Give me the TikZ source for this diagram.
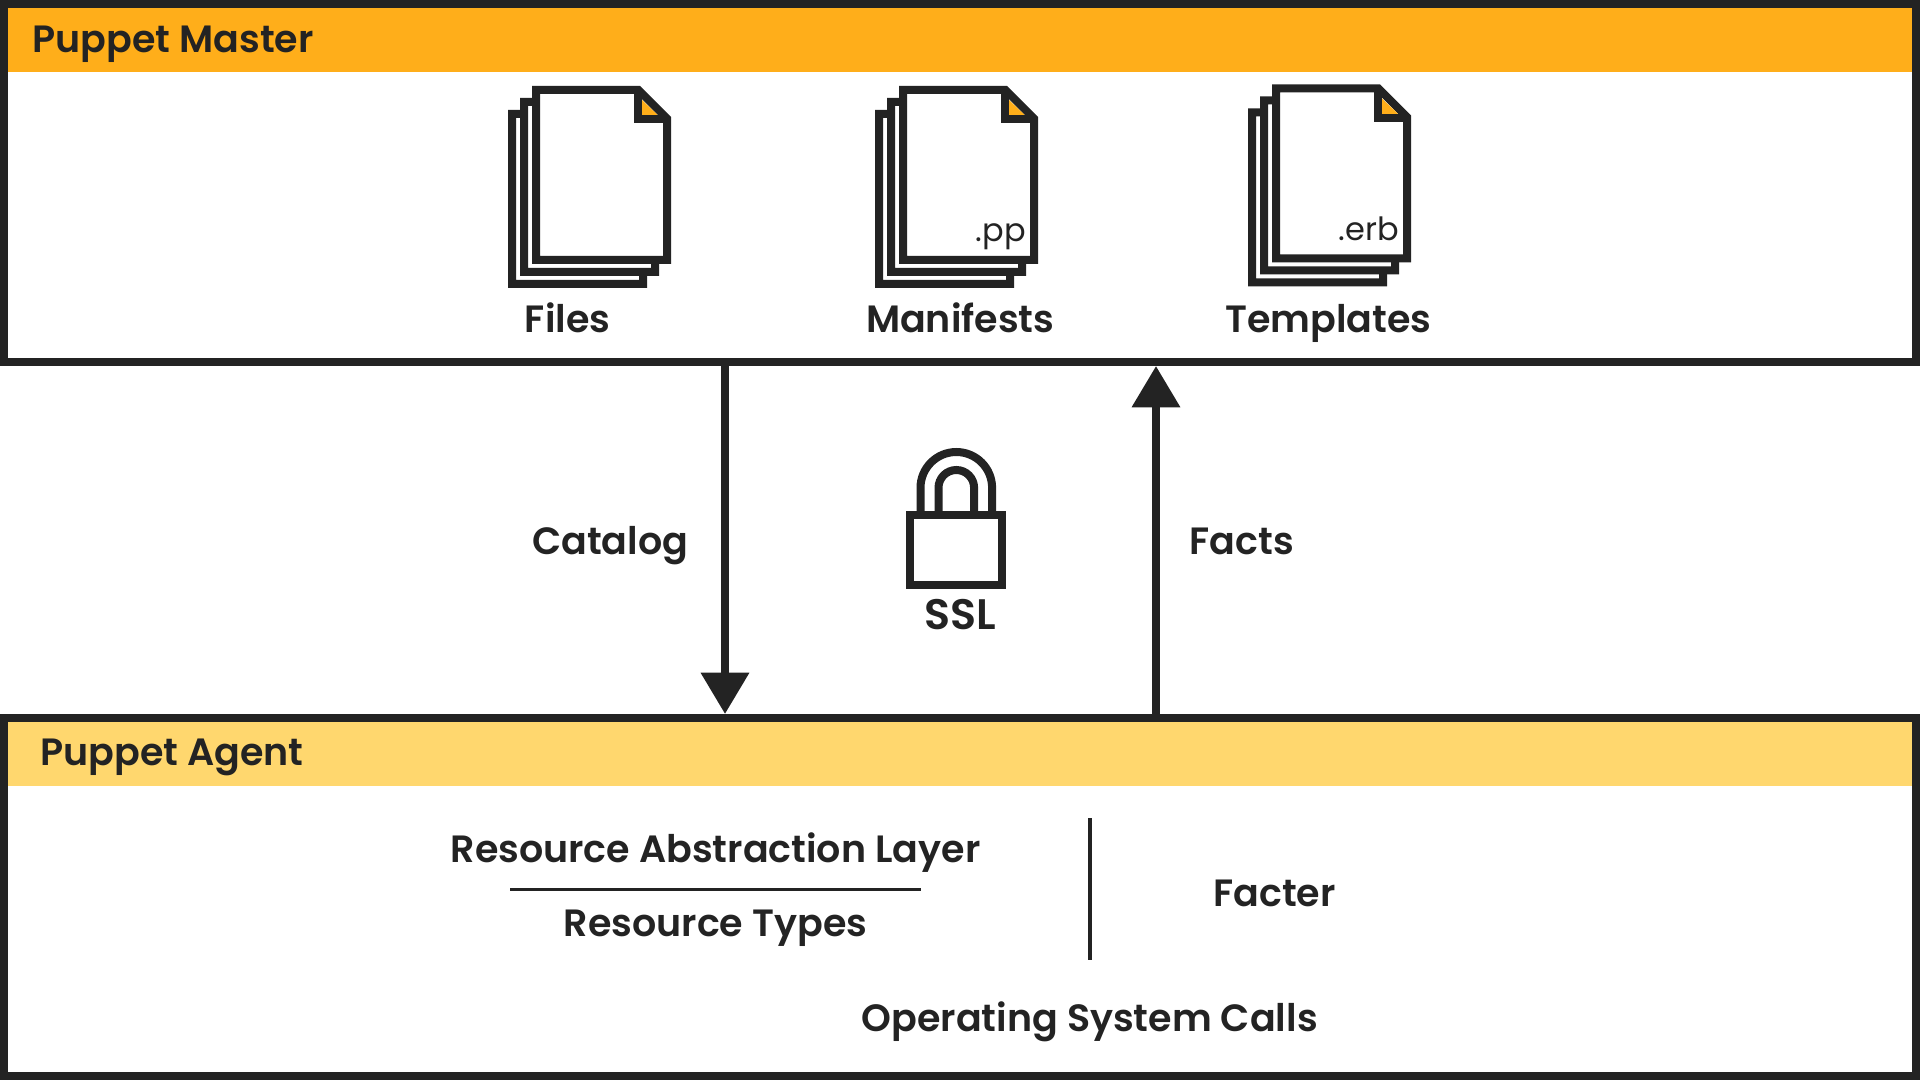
\documentclass[tikz,border=0pt]{standalone}
\usepackage{fontspec}
\setmainfont{Poppins}[BoldFont={Poppins SemiBold}]
\definecolor{inkdark}{HTML}{232323}
\definecolor{masterorange}{HTML}{FFAE1A}
\definecolor{agentyellow}{HTML}{FFD76E}
\usetikzlibrary{arrows.meta}
\tikzset{
  panel/.style={draw=inkdark, line width=6pt, rectangle, minimum width=1434pt, minimum height=268.5pt, inner sep=0pt},
  band/.style={fill=#1, draw=none, rectangle, inner sep=0pt, outer sep=0pt, minimum width=1428pt, minimum height=48pt},
  sheet/.style={draw=inkdark, line width=6pt, fill=white},
  foldline/.style={draw=inkdark, line width=6pt},
  flow/.style={draw=inkdark, line width=6pt, -{Triangle[length=31pt, width=35pt]}},
  rule/.style={draw=inkdark, line width=2.7pt},
  label/.style={text=inkdark, inner sep=0pt, anchor=base, font=\fontsize{28.5}{30}\selectfont\bfseries},
  ext/.style={text=inkdark, inner sep=0pt, anchor=base east, font=\fontsize{24}{24}\selectfont}
}
\begin{document}
\begin{tikzpicture}[x=0.75pt, y=-0.75pt]
\useasboundingbox (0,0) rectangle (1920,1080);
\node[band=masterorange, anchor=north west] (masterband) at (8,8) {};
\node[band=agentyellow, anchor=north west] (agentband) at (8,722) {};
\node[panel, anchor=north west] (master) at (0,0) {};
\node[panel, anchor=south west] (agent) at (0,1080) {};
\node[label] (mastertitle) at (173,52.5) {Puppet Master};
\node[label] (agenttitle) at (172,765) {Puppet Agent};
% files
\draw[sheet] (512,114) -- (624,114) -- (643,133) -- (643,284) -- (512,284) -- cycle;
\draw[sheet] (524,102) -- (636,102) -- (655,121) -- (655,272) -- (524,272) -- cycle;
\draw[sheet] (536,90) -- (638.5,90) -- (667,118.5) -- (667,260) -- (536,260) -- cycle;
\fill[masterorange] (642,100) -- (642,115.7) -- (658.4,115.7) -- cycle;
\draw[foldline] (638,90) -- (638,119.5) -- (667,119.5);
\node[label] (files) at (567.7,333) {Files};
% manifests
\draw[sheet] (879,114) -- (991,114) -- (1010,133) -- (1010,284) -- (879,284) -- cycle;
\draw[sheet] (891,102) -- (1003,102) -- (1022,121) -- (1022,272) -- (891,272) -- cycle;
\draw[sheet] (903,90) -- (1005.5,90) -- (1034,118.5) -- (1034,260) -- (903,260) -- cycle;
\fill[masterorange] (1009,100) -- (1009,115.7) -- (1025.4,115.7) -- cycle;
\draw[foldline] (1005,90) -- (1005,119.5) -- (1034,119.5);
\node[ext] (pp) at (1026,242) {.pp};
\node[label] (manifests) at (960.2,333) {Manifests};
% templates
\draw[sheet] (1252,112.5) -- (1364,112.5) -- (1383,131.5) -- (1383,282.5) -- (1252,282.5) -- cycle;
\draw[sheet] (1264,100.5) -- (1376,100.5) -- (1395,119.5) -- (1395,270.5) -- (1264,270.5) -- cycle;
\draw[sheet] (1276,88.5) -- (1378.5,88.5) -- (1407,117) -- (1407,258.5) -- (1276,258.5) -- cycle;
\fill[masterorange] (1382,98.5) -- (1382,114.2) -- (1398.4,114.2) -- cycle;
\draw[foldline] (1378,88.5) -- (1378,118) -- (1407,118);
\node[ext] (erb) at (1399,241) {.erb};
\node[label] (templates) at (1328.3,333) {Templates};
% channel between the panels
\coordinate (catalogpos) at (725,540);
\coordinate (factspos) at (1156,540);
\draw[flow] (catalogpos |- master.south) -- (catalogpos |- agent.north);
\draw[flow] (factspos |- agent.north) -- (factspos |- master.south);
\node[label] (catalog) at (610.3,554.3) {Catalog};
\node[label] (facts) at (1241.8,554.3) {Facts};
\draw[sheet] (910.2,515) rectangle (1002.3,584.5);
\draw[sheet, fill=none] (920.5,515) -- (920.5,487.8) arc[start angle=180, end angle=360, radius=35.8] -- (992.1,515);
\draw[sheet, fill=none] (938.5,515) -- (938.5,487.8) arc[start angle=180, end angle=360, radius=17.8] -- (974.1,515);
\node[label, font=\fontsize{32}{32}\selectfont\bfseries] (ssl) at (960.4,629) {SSL};
% agent panel
\node[label] (ral) at (715.5,862.7) {Resource Abstraction Layer};
\node[label] (restypes) at (715.6,936.7) {Resource Types};
\coordinate (raleft) at (510,889.3);
\coordinate (raright) at (920.7,889.3);
\draw[rule] (raleft) -- (raright);
\coordinate (sepup) at (1089.8,818.3);
\coordinate (sepdown) at (1089.8,960);
\draw[rule] (sepup) -- (sepdown);
\node[label] (facter) at (1274.6,906) {Facter};
\node[label] (oscalls) at (1089.7,1031.3) {Operating System Calls};
\end{tikzpicture}
\end{document}
